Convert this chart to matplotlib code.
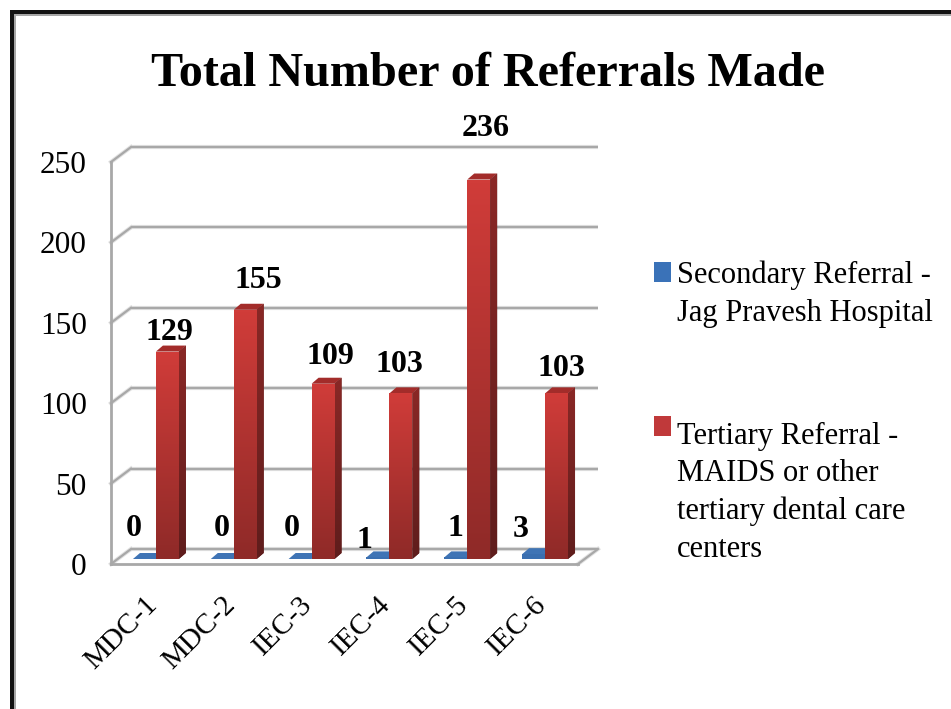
import numpy as np
import matplotlib
matplotlib.use("Agg")
import matplotlib.pyplot as plt
from matplotlib.patches import Rectangle, Polygon
from matplotlib.transforms import Affine2D, IdentityTransform
from matplotlib.legend_handler import HandlerPatch
from matplotlib.colors import LinearSegmentedColormap

categories = ["MDC-1", "MDC-2", "IEC-3", "IEC-4", "IEC-5", "IEC-6"]
secondary = [0, 0, 0, 1, 1, 3]
tertiary = [129, 155, 109, 103, 236, 103]
y_ticks = [0, 50, 100, 150, 200, 250]
title = "Total Number of Referrals Made"
series_names = ["Secondary Referral -\nJag Pravesh Hospital",
                "Tertiary Referral -\nMAIDS or other\ntertiary dental care\ncenters"]
# label offsets from each bar's top, in pixels (matching the reference's manual placement)
sec_label_pos = [(-16, 35), (-6, 35), (-14, 35), (-19, 22), (-6, 34), (-18, 30)]
ter_label_pos = [(8, 24), (19, 34), (13, 32), (5, 34), (13, 56), (11, 30)]

W, H = 951, 709
DPI = 100
plt.rcParams["font.family"] = ["Liberation Serif", "DejaVu Serif"]
fig = plt.figure(figsize=(W / DPI, H / DPI), dpi=DPI, facecolor="white")

# axes rectangle equals the front plane of the 3-D box
L, R, Y0, Y250 = 111, 578, 564, 162
ax = fig.add_axes([L / W, 1 - Y0 / H, (R - L) / W, (Y0 - Y250) / H])
ax.set_xlim(0, 6)
ax.set_ylim(0, 250)
ax.patch.set_visible(False)
px_x = (R - L) / 6
px_y = (Y0 - Y250) / 250


def shift(dx, dy):
    return ax.transData + Affine2D().translate(dx, dy)


GRID = "#a8a8a8"
BOX_DX, BOX_DY = 20, 15
BAR_DX, BAR_DY = 6, 5
DEPTH_X, DEPTH_Y = 7 / px_x, 6 / px_y
BAR_W = 0.295
back = shift(BOX_DX, BOX_DY)
bdx, bdy = BOX_DX / px_x, BOX_DY / px_y

# walls and floor
for lw, col in ((3.0, "#e2e2e2"), (1.6, GRID)):
    ax.hlines(y_ticks, 0, 6, colors=col, lw=lw, transform=back, clip_on=False, zorder=1)
    for v in y_ticks:
        ax.plot([0, bdx], [v, v + bdy], color=col, lw=lw, clip_on=False, zorder=1)
    ax.plot([6, 6 + bdx], [0, bdy], color=col, lw=lw, clip_on=False, zorder=1)

for s in ("top", "right"):
    ax.spines[s].set_visible(False)
for s in ("left", "bottom"):
    ax.spines[s].set_color(GRID)
    ax.spines[s].set_linewidth(2.0)
    ax.spines[s].set_zorder(1.5)

ax.set_xticks(np.arange(6) + 0.5)
ax.set_xticklabels(categories, rotation=45, ha="right", va="top", rotation_mode="anchor",
                   fontsize=21)
ax.set_yticks(y_ticks)
ax.tick_params(axis="both", length=0, colors="black")
ax.tick_params(axis="y", pad=17.5, labelsize=22.5)
ax.tick_params(axis="x", pad=20, labelsize=21)
for lbl in ax.get_xticklabels():
    lbl.set_transform(lbl.get_transform() + Affine2D().translate(-6, 0))

T = shift(BAR_DX, BAR_DY)


def cmap(*cols):
    return LinearSegmentedColormap.from_list("g", cols)


def gradient(artist, x0, x1, y0, y1, top, bottom, z):
    im = ax.imshow(np.linspace(0, 1, 64).reshape(-1, 1), cmap=cmap(top, bottom),
                   extent=(x0, x1, y0, y1), origin="upper", aspect="auto",
                   transform=T, zorder=z, interpolation="bilinear")
    im.set_clip_path(artist)


def draw_bar(x, v, side_top, side_bot, top_col, z):
    poly_top = Polygon([(x, v), (x + BAR_W, v), (x + BAR_W + DEPTH_X, v + DEPTH_Y), (x + DEPTH_X, v + DEPTH_Y)],
                       closed=True, fc=top_col, ec="none", transform=T, zorder=z, clip_on=False)
    ax.add_patch(poly_top)
    side = Polygon([(x + BAR_W, 0), (x + BAR_W + DEPTH_X, DEPTH_Y), (x + BAR_W + DEPTH_X, v + DEPTH_Y), (x + BAR_W, v)],
                   closed=True, fc=side_bot, ec="none", transform=T, zorder=z, clip_on=False)
    ax.add_patch(side)
    if v > 0:
        gradient(side, x + BAR_W, x + BAR_W + DEPTH_X, 0, v + DEPTH_Y, side_top, side_bot, z)


xs = np.arange(6)
# blue series
blue_bars = ax.bar(xs + 0.205, secondary, width=BAR_W, align="edge", color="#3a6fb0",
                   transform=T, zorder=3, clip_on=False)
for x, v in zip(xs + 0.205, secondary):
    draw_bar(x, v, "#2f5a90", "#254a78", "#3f74b5", 3)
# red series
red_bars = ax.bar(xs + 0.5, tertiary, width=BAR_W, align="edge", color="#ac302d",
                  transform=T, zorder=4, clip_on=False)
for b, x, v in zip(red_bars, xs + 0.5, tertiary):
    draw_bar(x, v, "#8a2826", "#5f1d1c", "#a32c2a", 4)
    gradient(b, x, x + BAR_W, 0, v, "#d03c39", "#8f2a28", 4.5)
ax.set_xlim(0, 6)
ax.set_ylim(0, 250)

# data labels
lab = dict(ha="center", va="center", fontsize=23, fontweight="bold", color="black",
           textcoords="offset pixels", zorder=6, annotation_clip=False)
for i, (v, off) in enumerate(zip(secondary, sec_label_pos)):
    ax.annotate(str(v), (i + 0.205 + BAR_W, v), xytext=off, **lab)
for i, (v, off) in enumerate(zip(tertiary, ter_label_pos)):
    ax.annotate(str(v), (i + 0.5 + BAR_W / 2, v), xytext=off, **lab)

# title
fig.text(488 / W, 1 - 74 / H, title, ha="center", va="center", fontsize=34.7, fontweight="bold",
         color="black")


swatch_shift = {1: 18, 3: 50}


# legend with swatches aligned to each entry's first line
def first_line_patch(legend, orig_handle, xdescent, ydescent, width, height, fontsize):
    n = orig_handle.get_label().count("\n")
    return Rectangle((xdescent, ydescent + swatch_shift[n]), width, height)


handles = [Rectangle((0, 0), 1, 1, fc="#3a72b8", label=series_names[0]),
           Rectangle((0, 0), 1, 1, fc="#c0393a", label=series_names[1])]
leg = fig.legend(handles=handles, loc="upper left", bbox_to_anchor=(654 / W, 1 - 261 / H),
                 frameon=False, fontsize=22, handlelength=0.56, handleheight=0.59,
                 handletextpad=0.2, labelspacing=3.07, borderpad=0, borderaxespad=0,
                 handler_map={Rectangle: HandlerPatch(patch_func=first_line_patch)})
for t in leg.get_texts():
    t.set_linespacing(1.385)


# outer frame, only left and top edges visible within the crop
def px_rect(x0, y0, x1, y1, col):
    fig.add_artist(Rectangle((x0, H - y1), x1 - x0, y1 - y0, fc=col, ec="none",
                             transform=IdentityTransform()))


px_rect(13, 13, 16, H, "#a6a6a6")
px_rect(13, 13, W, 16, "#a6a6a6")
px_rect(10, 10, 13.5, H, "#111111")
px_rect(10, 10, W, 13.5, "#111111")

fig.savefig("out.png", dpi=DPI, facecolor="white")
